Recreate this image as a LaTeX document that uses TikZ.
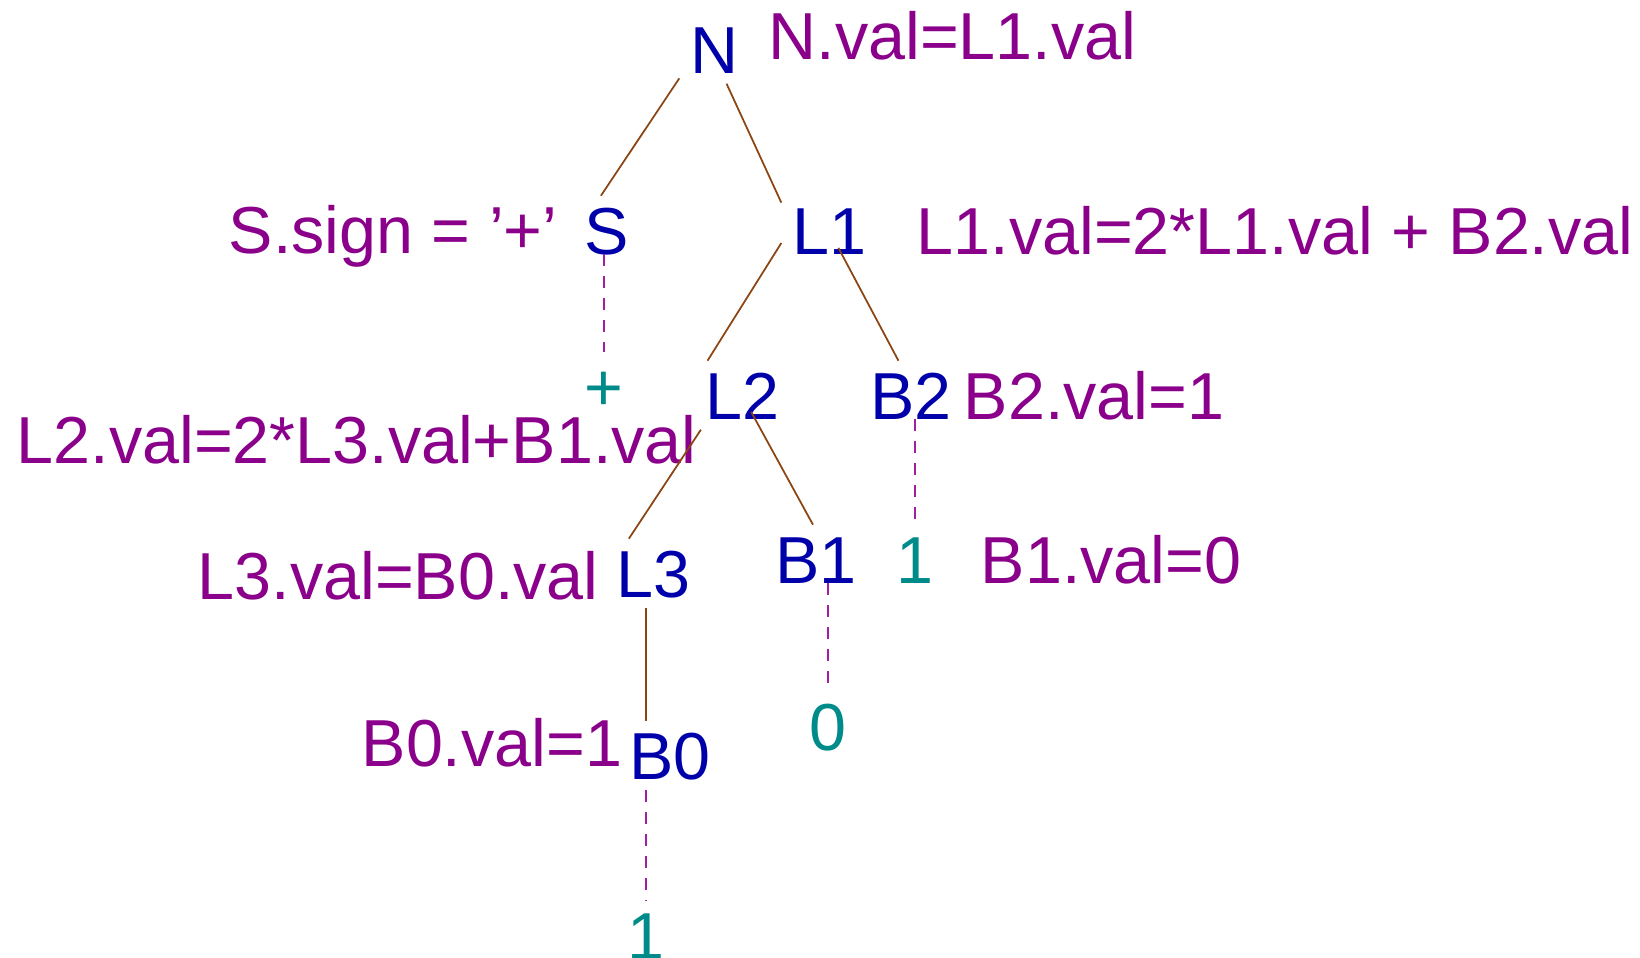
\documentclass[tikz,border=0pt]{standalone}
\usepackage{fontspec}
\setmainfont{Liberation Sans}
\usepackage{tikz}

\definecolor{symblue}{RGB}{0,0,170}
\definecolor{rulepurple}{RGB}{139,0,139}
\definecolor{termteal}{RGB}{0,139,139}
\definecolor{edgebrown}{RGB}{139,69,19}
\definecolor{leafpurple}{RGB}{160,30,160}

\begin{document}
\begin{tikzpicture}[x=0.01cm, y=-0.01cm]
    \fontsize{18.9}{22}\selectfont
    \useasboundingbox (0,0) rectangle (1640,957);
    % grammar symbols of the parse tree
    \tikzstyle{sym}=[anchor=base, inner sep=1mm, text height=0.716em, text depth=0pt, text=symblue]
    % terminals read from the input
    \tikzstyle{term}=[sym, text=termteal]
    % semantic rules beside the symbols
    \tikzstyle{sem}=[anchor=base west, inner sep=0, text=rulepurple]
    \tikzstyle{edge}=[line width=.5pt, edgebrown]
    \tikzstyle{leaf}=[line width=.6pt, leafpurple, dash pattern=on 0.12cm off 0.1cm]
    \node[sym] (N) at (714,73) {N};
    \node[sym] (S) at (607,254) {S};
    \node[sym] (L1) at (829,254) {L1};
    \node[term] (plus) at (604,410) {+};
    \node[sym] (L2) at (742,419) {L2};
    \node[sym] (B2) at (911,419) {B2};
    \node[sym] (L3) at (653,597) {L3};
    \node[sym] (B1) at (816,583) {B1};
    \node[term] (oneB2) at (915,583) {1};
    \node[sym] (B0) at (670,779) {B0};
    \node[term] (zeroB1) at (828,750) {0};
    \node[term] (oneB0) at (646,959) {1};
    \node[sem] (semN) at (768,59) {N.val=L1.val};
    \node[sem] (semS) at (228,253) {S.sign = ’+’};
    \node[sem] (semL1) at (916,254) {L1.val=2*L1.val + B2.val};
    \node[sem] (semB2) at (963,419) {B2.val=1};
    \node[sem] (semL2) at (16,463) {L2.val=2*L3.val+B1.val};
    \node[sem] (semL3) at (197,599) {L3.val=B0.val};
    \node[sem] (semB1) at (980,583) {B1.val=0};
    \node[sem] (semB0) at (361,766) {B0.val=1};
    \draw[edge] (N.220) -- (S.100);
    \draw[edge] (N.-70) -- (L1.150);
    \draw[edge] (L1.195) -- (L2.135);
    \draw[edge, shorten <=0.2cm] (L1.center) -- (B2.110);
    \draw[edge] (L2.220) -- (L3.125);
    \draw[edge, shorten <=0.19cm] (L2.center) -- (B1.95);
    \draw[edge] (L3.south -| oneB0) -- (B0.north -| oneB0);
    \draw[leaf] (S.base -| plus) -- (plus.north);
    \draw[leaf] (B2.base -| oneB2) -- (oneB2.north);
    \draw[leaf] (B1.base -| zeroB1) -- (zeroB1.north);
    \draw[leaf] (B0.south -| oneB0) -- (oneB0.north);
\end{tikzpicture}
\end{document}
